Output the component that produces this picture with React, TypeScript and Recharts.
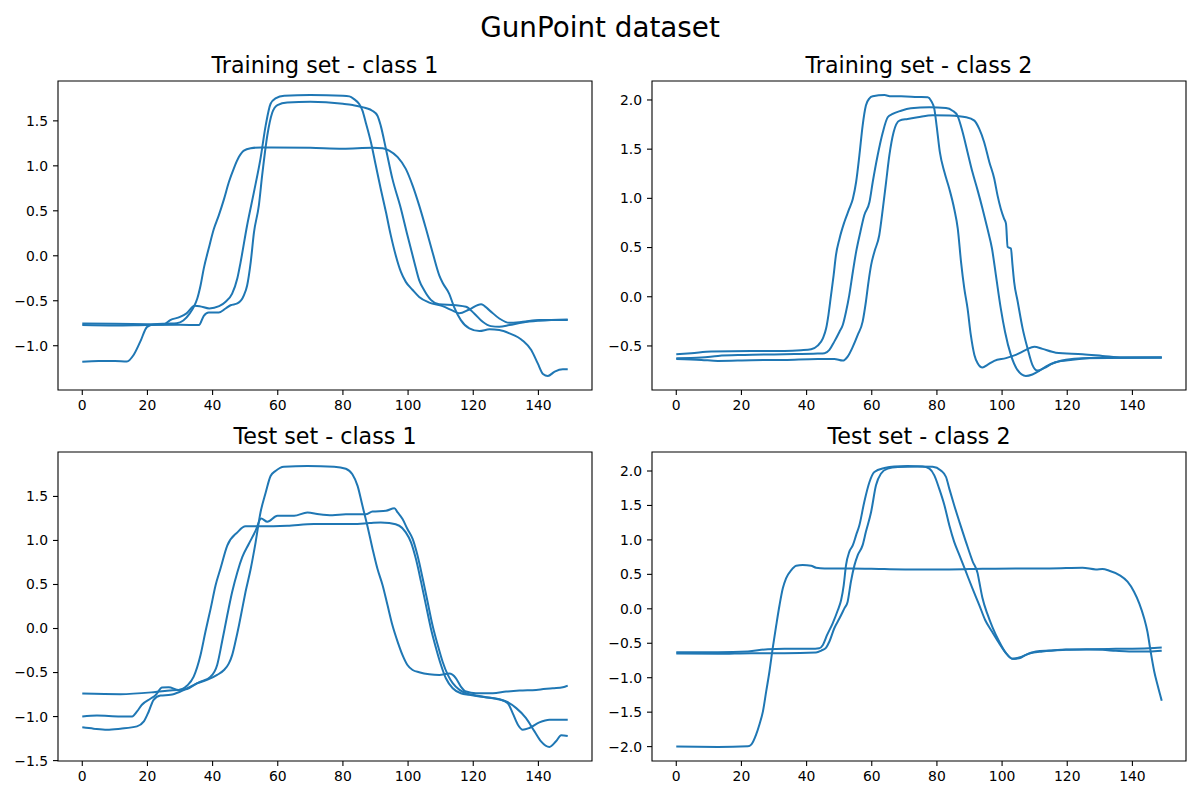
import { LineChart, Line, XAxis, YAxis, ReferenceArea } from "recharts";

type Pt = [number, number];

// x ticks shared by every panel, y ticks per panel
const xTicks = [0, 20, 40, 60, 80, 100, 120, 140];
const trainClass1Ticks = [-1, -0.5, 0, 0.5, 1, 1.5];
const trainClass2Ticks = [-0.5, 0, 0.5, 1, 1.5, 2];
const testClass1Ticks = [-1.5, -1, -0.5, 0, 0.5, 1, 1.5];
const testClass2Ticks = [-2, -1.5, -1, -0.5, 0, 0.5, 1, 1.5, 2];

// Training set - class 1
const trainC1a: Pt[] = [
  [0, -0.752], [10, -0.755], [20, -0.76], [25, -0.762], [27, -0.715], [30, -0.68], [32, -0.64],
  [34.5, -0.556], [36, -0.56], [39, -0.585], [42, -0.56], [44, -0.51], [46, -0.42], [47.6, -0.25],
  [48.6, -0.07], [50.6, 0.34], [52.7, 0.71], [54.7, 1.08], [56.3, 1.45], [57.8, 1.69], [59.3, 1.75],
  [62, 1.78], [70, 1.787], [80, 1.78], [82, 1.772], [83.4, 1.742], [85, 1.687], [86, 1.613],
  [87, 1.483], [88.6, 1.262], [90.1, 1.003], [91.6, 0.745], [93.2, 0.486], [94.7, 0.227],
  [96.2, 0.006], [97.8, -0.18], [99.3, -0.29], [101.4, -0.38], [103.4, -0.457], [106.5, -0.52],
  [110.6, -0.56], [113.7, -0.61], [115.7, -0.64], [118.8, -0.597], [122.4, -0.538], [124.9, -0.604],
  [128, -0.697], [131.1, -0.745], [135.2, -0.734], [140.3, -0.715], [149, -0.715],
];
const trainC1b: Pt[] = [
  [0, -0.77], [10, -0.775], [20, -0.77], [30, -0.768], [35.8, -0.77], [37.3, -0.667], [38.8, -0.63],
  [41.9, -0.63], [44, -0.586], [45.5, -0.55], [47.6, -0.53], [49.6, -0.44], [50.6, -0.33],
  [51.7, -0.07], [52.7, 0.26], [54.2, 0.56], [55.2, 0.89], [56.8, 1.34], [58.3, 1.59], [59.9, 1.676],
  [62.9, 1.705], [70, 1.712], [80, 1.69], [83, 1.676], [87, 1.643], [89, 1.613], [90.6, 1.557],
  [91.6, 1.447], [93.2, 1.188], [95.2, 0.855], [97.8, 0.523], [99.8, 0.227], [101.9, -0.068],
  [103.4, -0.27], [104.9, -0.38], [107, -0.49], [109.5, -0.538], [114.7, -0.549], [117.8, -0.567],
  [120.3, -0.641], [122.9, -0.734], [125.4, -0.782], [128, -0.789], [131.1, -0.77], [135.2, -0.741],
  [140.3, -0.722], [149, -0.708],
];
const trainC1c: Pt[] = [
  [0, -1.177], [5, -1.17], [10, -1.17], [13.7, -1.175], [15.8, -1.1], [17.8, -0.955], [19.9, -0.79],
  [21.9, -0.763], [26, -0.755], [29, -0.75], [31, -0.72], [33, -0.64], [34.2, -0.57], [35.3, -0.475],
  [36.3, -0.33], [37.3, -0.14], [38.8, 0.08], [40.4, 0.3], [41.9, 0.45], [43.5, 0.63], [45, 0.82],
  [46.5, 0.97], [48.1, 1.1], [49.6, 1.17], [51.7, 1.195], [55, 1.205], [70, 1.2], [80, 1.19],
  [89, 1.2], [92.2, 1.195], [94.2, 1.17], [96.8, 1.096], [99.3, 0.966], [101.4, 0.78], [103.4, 0.56],
  [105.5, 0.3], [107.5, 0.04], [109.6, -0.22], [110.6, -0.3], [112.6, -0.42], [114.1, -0.567],
  [116.2, -0.715], [118.8, -0.807], [121.9, -0.837], [125, -0.818], [128, -0.826], [131.1, -0.863],
  [135.2, -0.944], [137.8, -1.047], [139.8, -1.196], [141.4, -1.314], [142.9, -1.336], [145, -1.288],
  [147.5, -1.262], [149, -1.262],
];

// Training set - class 2
const trainC2a: Pt[] = [
  [0, -0.584], [4.6, -0.574], [10.7, -0.557], [23, -0.551], [33.2, -0.551], [38.3, -0.544],
  [41.4, -0.534], [43.4, -0.497], [45, -0.422], [46, -0.321], [46.7, -0.186], [47.5, 0.017],
  [48.3, 0.22], [49, 0.42], [50.1, 0.59], [51.6, 0.76], [53.1, 0.895], [54.2, 0.997], [55.2, 1.166],
  [56.2, 1.436], [57.2, 1.74], [58.2, 1.943], [59.3, 2.017], [60.3, 2.037], [63.9, 2.05],
  [65.9, 2.037], [69, 2.037], [74.1, 2.03], [77.2, 2.027], [78.2, 1.993], [79.2, 1.909],
  [79.9, 1.74], [80.9, 1.469], [82.3, 1.267], [83.8, 1.098], [85.3, 0.895], [86.4, 0.693],
  [87.4, 0.355], [88.4, 0.085], [89.4, -0.118], [90.4, -0.388], [91.5, -0.591], [92.5, -0.675],
  [94, -0.719], [95.5, -0.692], [97.6, -0.651], [101.2, -0.624], [104.2, -0.591], [107.3, -0.54],
  [109.9, -0.507], [112.4, -0.53], [116.5, -0.568], [124.7, -0.584], [130.8, -0.601], [137, -0.618],
  [149, -0.618],
];
const trainC2b: Pt[] = [
  [0, -0.625], [7.7, -0.618], [12.8, -0.601], [20.9, -0.591], [33.2, -0.584], [43.4, -0.577],
  [45.5, -0.574], [47, -0.54], [48.5, -0.456], [50.1, -0.355], [51.1, -0.287], [52.1, -0.152],
  [53.1, 0.017], [54.2, 0.254], [55.2, 0.456], [56.5, 0.659], [57.7, 0.828], [59.3, 0.963],
  [60.3, 1.166], [61.8, 1.436], [63.4, 1.672], [64.9, 1.824], [66.4, 1.858], [69, 1.891], [72, 1.915],
  [77.7, 1.925], [82.8, 1.918], [84.8, 1.891], [86.3, 1.841], [87.9, 1.672], [89.4, 1.469],
  [90.9, 1.267], [92.5, 1.081], [94, 0.895], [95.5, 0.693], [96.9, 0.49], [98.1, 0.22],
  [99.6, -0.118], [100.9, -0.355], [102.7, -0.591], [104.7, -0.743], [107.3, -0.805],
  [109.3, -0.79], [111.4, -0.753], [113.4, -0.709], [116.5, -0.665], [121.6, -0.641],
  [130.8, -0.618], [149, -0.618],
];
const trainC2c: Pt[] = [
  [0, -0.632], [7.7, -0.642], [12.8, -0.652], [23, -0.645], [33.2, -0.642], [43.4, -0.632],
  [48.5, -0.632], [51.1, -0.649], [52.6, -0.608], [54.2, -0.507], [55.7, -0.388], [57.2, -0.253],
  [58.2, -0.051], [59, 0.152], [59.8, 0.321], [60.8, 0.456], [62.3, 0.625], [63.4, 0.895],
  [64.4, 1.166], [65.4, 1.436], [66.7, 1.672], [68.5, 1.79], [71, 1.807], [74.1, 1.824],
  [78.7, 1.845], [83.8, 1.841], [89, 1.824], [91.5, 1.79], [93, 1.706], [94.5, 1.571], [96.1, 1.368],
  [97.6, 1.199], [98.6, 1.03], [99.6, 0.895], [100.6, 0.794], [101.2, 0.743], [101.7, 0.507],
  [102.7, 0.49], [103.2, 0.321], [103.7, 0.152], [104.8, -0.051], [106.3, -0.321], [107.8, -0.523],
  [109.3, -0.692], [110.8, -0.75], [112.9, -0.726], [115.4, -0.679], [119.6, -0.641],
  [124.7, -0.624], [149, -0.618],
];

// Test set - class 1
const testC1a: Pt[] = [
  [0, -0.739], [11.7, -0.746], [21.9, -0.723], [26, -0.708], [29.1, -0.697], [32.2, -0.686],
  [35.3, -0.621], [38.3, -0.584], [41.4, -0.527], [43.5, -0.471], [45, -0.396], [46, -0.302],
  [47, -0.151], [48.1, 0.037], [49.1, 0.226], [50.1, 0.414], [51.7, 0.678], [53.2, 0.979],
  [54.7, 1.318], [56.3, 1.544], [57.8, 1.732], [59.3, 1.789], [61.9, 1.838], [69.1, 1.845],
  [77.3, 1.838], [80.9, 1.815], [82.9, 1.751], [84.5, 1.62], [86, 1.393], [87.5, 1.167],
  [89.1, 0.904], [90.6, 0.678], [92.2, 0.489], [93.7, 0.263], [95.2, 0.037], [96.8, -0.151],
  [98.3, -0.302], [99.8, -0.414], [101.4, -0.471], [103.4, -0.497], [106.5, -0.52], [109.6, -0.527],
  [112.6, -0.512], [114.7, -0.565], [116.2, -0.659], [117.8, -0.716], [120.8, -0.735], [126, -0.735],
  [130.1, -0.716], [134.2, -0.704], [139.3, -0.697], [144.4, -0.678], [147.5, -0.667], [149, -0.648],
];
const testC1b: Pt[] = [
  [0, -1.122], [3.5, -1.137], [7.6, -1.149], [11.7, -1.137], [16.8, -1.111], [18.9, -1.055],
  [20.4, -0.942], [21.9, -0.81], [24, -0.761], [27.1, -0.753], [30.1, -0.716], [33.2, -0.659],
  [36.3, -0.603], [39.4, -0.546], [41.4, -0.414], [42.9, -0.151], [44.5, 0.15], [46, 0.414],
  [47.6, 0.64], [49.1, 0.81], [51.1, 0.96], [53.2, 1.111], [54.9, 1.25], [56.8, 1.212], [59.9, 1.28],
  [65, 1.28], [69.1, 1.318], [72.7, 1.298], [76.8, 1.287], [80.9, 1.298], [87, 1.298], [89.1, 1.329],
  [93.2, 1.337], [95.8, 1.367], [96.8, 1.318], [98.3, 1.243], [99.8, 1.13], [101.4, 1.017],
  [102.9, 0.828], [104.5, 0.565], [106, 0.301], [107.5, 0.037], [109.1, -0.188], [110.6, -0.377],
  [112.2, -0.527], [113.7, -0.621], [115.8, -0.697], [117.8, -0.735], [120.8, -0.761],
  [123.9, -0.78], [128, -0.802], [130.6, -0.848], [132.1, -0.961], [133.7, -1.092], [135.2, -1.149],
  [137.2, -1.13], [140.3, -1.066], [143.4, -1.036], [149, -1.036],
];
const testC1c: Pt[] = [
  [0, -0.998], [4.5, -0.987], [11.7, -0.998], [15.3, -0.998], [16.8, -0.942], [18.3, -0.866],
  [20.9, -0.798], [22.4, -0.761], [24.5, -0.67], [26.5, -0.667], [29.6, -0.697], [32.2, -0.648],
  [34.2, -0.546], [36.3, -0.301], [37.8, -0.037], [39.4, 0.226], [40.9, 0.489], [42.4, 0.678],
  [44.5, 0.941], [47.6, 1.092], [50.1, 1.16], [54.7, 1.16], [62.9, 1.167], [71.1, 1.186],
  [78.8, 1.186], [82.9, 1.186], [88.2, 1.197], [91.6, 1.205], [94.2, 1.197], [97.3, 1.167],
  [99.3, 1.092], [100.9, 0.979], [102.4, 0.791], [104, 0.527], [105.5, 0.263], [107, 0],
  [108.6, -0.226], [110.1, -0.414], [111.6, -0.565], [113.7, -0.678], [116.2, -0.735],
  [118.8, -0.753], [121.9, -0.772], [126, -0.791], [130.1, -0.829], [133.2, -0.904], [136.2, -1.017],
  [138.8, -1.168], [140.8, -1.281], [143.4, -1.345], [145.4, -1.281], [147, -1.213], [149, -1.221],
];

// Test set - class 2
const testC2a: Pt[] = [
  [0, -2.0], [12.8, -2.005], [22, -1.995], [23, -1.971], [24.5, -1.826], [25.5, -1.682],
  [26.6, -1.489], [27.6, -1.199], [28.6, -0.91], [29.6, -0.572], [30.7, -0.234], [31.7, 0.055],
  [32.7, 0.297], [33.7, 0.442], [35.3, 0.562], [36.8, 0.625], [38.8, 0.635], [41.4, 0.625],
  [42.9, 0.596], [45.5, 0.586], [53.6, 0.586], [63.9, 0.577], [73.6, 0.572], [83.8, 0.572],
  [94, 0.581], [104.2, 0.586], [114.6, 0.586], [124.7, 0.596], [128.8, 0.572], [130.8, 0.577],
  [132.9, 0.553], [136, 0.49], [138.5, 0.393], [140.5, 0.248], [142.1, 0.08], [143.6, -0.137],
  [144.6, -0.33], [145.6, -0.62], [146.7, -0.909], [147.7, -1.103], [149, -1.334],
];
const testC2b: Pt[] = [
  [0, -0.63], [12.8, -0.63], [22, -0.62], [28.1, -0.586], [33.2, -0.581], [41.4, -0.581],
  [43.9, -0.572], [45, -0.524], [46.3, -0.379], [48, -0.21], [49.6, -0.017], [50.6, 0.128],
  [51.4, 0.345], [52.1, 0.634], [53.1, 0.827], [54.2, 0.924], [55.2, 1.069], [56.2, 1.213],
  [57.7, 1.551], [59.3, 1.84], [60.8, 1.985], [63.9, 2.043], [66.9, 2.067], [71, 2.072],
  [75.6, 2.067], [77.7, 2.034], [79.2, 1.937], [80.7, 1.744], [82.3, 1.503], [83.8, 1.213],
  [85.3, 0.972], [86.9, 0.779], [88.9, 0.538], [90.9, 0.296], [93, 0.055], [94.8, -0.162],
  [96.9, -0.33], [99.1, -0.499], [101.2, -0.644], [103.2, -0.726], [105.2, -0.717], [107.3, -0.668],
  [110.4, -0.62], [114.5, -0.606], [119.6, -0.591], [126.7, -0.591], [130.8, -0.596],
  [134.9, -0.61], [139, -0.62], [145.1, -0.62], [149, -0.61],
];
const testC2c: Pt[] = [
  [0, -0.649], [12.8, -0.654], [23, -0.644], [33.2, -0.644], [42.9, -0.634], [44.5, -0.606],
  [46, -0.562], [47, -0.475], [48.5, -0.282], [50.1, -0.138], [51.6, 0.007], [52.6, 0.104],
  [53.6, 0.393], [54.7, 0.634], [55.7, 0.779], [57.2, 0.924], [58.2, 1.117], [59.8, 1.406],
  [61.3, 1.792], [62.8, 1.961], [64.9, 2.034], [68, 2.058], [74.1, 2.067], [78.7, 2.062],
  [81.2, 2.009], [82.8, 1.913], [83.8, 1.744], [85.3, 1.503], [86.9, 1.262], [88.9, 0.972],
  [91, 0.683], [92.5, 0.514], [93, 0.393], [94, 0.152], [95.6, -0.089], [97.1, -0.273],
  [99.1, -0.475], [101.2, -0.644], [103.2, -0.726], [105.2, -0.708], [108.3, -0.651],
  [112.4, -0.62], [119.6, -0.596], [126.7, -0.586], [134.9, -0.581], [145.1, -0.572], [149, -0.562],
];

const BLUE = "#1f77b4";
const FONT = "'DejaVu Sans', sans-serif";

// axes box size and the room left around it for ticks
const AX_W = 534;
const AX_H = 309;
const PAD_L = 70;
const PAD_T = 10;
const PAD_R = 10;
const PAD_B = 40;

const fmtTick = (v: number) => v.toFixed(1).replace("-", "\u2212");

// matplotlib-style autoscale: data range plus 5% each side
function padded(values: number[]): [number, number] {
  const lo = Math.min(...values);
  const hi = Math.max(...values);
  const m = (hi - lo) * 0.05;
  return [lo - m, hi + m];
}

type PanelProps = {
  series: Pt[][];
  yTicks: number[];
  left: number;
  top: number;
};

function Panel({ series, yTicks, left, top }: PanelProps) {
  const xDomain = padded(series.flatMap((s) => s.map((p) => p[0])));
  const yDomain = padded(series.flatMap((s) => s.map((p) => p[1])));
  const tickStyle = { fill: "#000", fontSize: 13.9, fontFamily: FONT };

  return (
    <div style={{ position: "absolute", left: left - PAD_L, top: top - PAD_T }}>
      <LineChart
        width={AX_W + PAD_L + PAD_R}
        height={AX_H + PAD_T + PAD_B}
        margin={{ top: PAD_T, right: PAD_R, bottom: 0, left: 0 }}
      >
        <XAxis
          type="number"
          dataKey="x"
          domain={xDomain}
          ticks={xTicks}
          interval={0}
          height={PAD_B}
          axisLine={false}
          tickSize={5}
          tickMargin={5}
          tickLine={{ stroke: "#000", strokeWidth: 1.1 }}
          tick={tickStyle}
        />
        <YAxis
          type="number"
          domain={yDomain}
          ticks={yTicks}
          interval={0}
          width={PAD_L}
          axisLine={false}
          tickSize={5}
          tickMargin={5}
          tickLine={{ stroke: "#000", strokeWidth: 1.1 }}
          tick={tickStyle}
          tickFormatter={fmtTick}
        />
        {series.map((s, i) => (
          <Line
            key={i}
            data={s.map(([x, y]) => ({ x, y }))}
            dataKey="y"
            type="monotone"
            stroke={BLUE}
            strokeWidth={2}
            dot={false}
            activeDot={false}
            isAnimationActive={false}
          />
        ))}
        <ReferenceArea
          x1={xDomain[0]}
          x2={xDomain[1]}
          y1={yDomain[0]}
          y2={yDomain[1]}
          fill="none"
          fillOpacity={0}
          stroke="#000"
          strokeWidth={1.1}
          ifOverflow="visible"
        />
      </LineChart>
    </div>
  );
}

const panels = [
  { title: "Training set - class 1", series: [trainC1a, trainC1b, trainC1c], yTicks: trainClass1Ticks, left: 58, top: 81 },
  { title: "Training set - class 2", series: [trainC2a, trainC2b, trainC2c], yTicks: trainClass2Ticks, left: 652, top: 81 },
  { title: "Test set - class 1", series: [testC1a, testC1b, testC1c], yTicks: testClass1Ticks, left: 58, top: 452 },
  { title: "Test set - class 2", series: [testC2a, testC2b, testC2c], yTicks: testClass2Ticks, left: 652, top: 452 },
];

export default function App() {
  return (
    <div style={{ position: "absolute", left: 0, top: 0, width: 1200, height: 800, background: "#fff", fontFamily: FONT }}>
      {panels.map((p) => (
        <Panel key={p.title} series={p.series} yTicks={p.yTicks} left={p.left} top={p.top} />
      ))}
      <svg width={1200} height={800} style={{ position: "absolute", left: 0, top: 0, pointerEvents: "none" }}>
        <text x={600} y={37} textAnchor="middle" fontSize={27.8} fontFamily={FONT} fill="#000">
          GunPoint dataset
        </text>
        {panels.map((p) => (
          <text key={p.title} x={p.left + AX_W / 2} y={p.top - 8.3} textAnchor="middle" fontSize={22.2} fontFamily={FONT} fill="#000">
            {p.title}
          </text>
        ))}
      </svg>
    </div>
  );
}
